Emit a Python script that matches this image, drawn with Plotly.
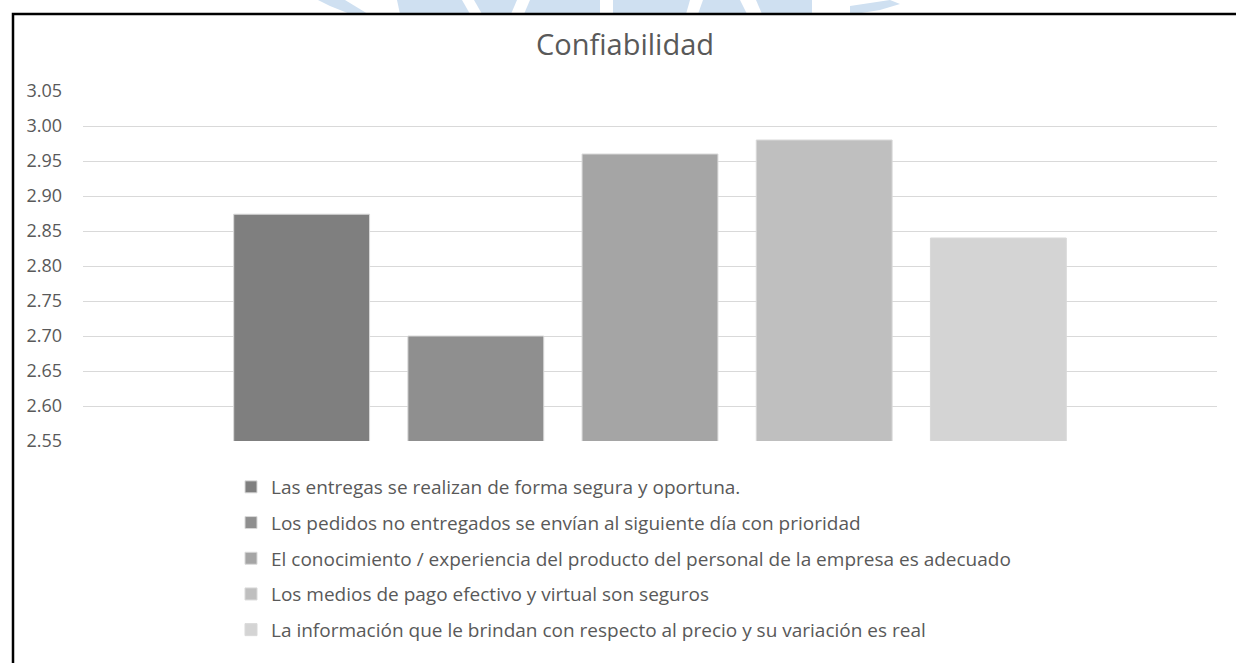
import plotly.graph_objects as go

title_text = "Confiabilidad"
category = ["Confiabilidad"]
series_names = [
    "Las entregas se realizan de forma segura y oportuna.",
    "Los pedidos no entregados se envían al siguiente día con prioridad",
    "El conocimiento / experiencia del producto del personal de la empresa es adecuado",
    "Los medios de pago efectivo y virtual son seguros",
    "La información que le brindan con respecto al precio y su variación es real",
]
series_values = [2.874, 2.70, 2.96, 2.98, 2.84]
series_colors = ["#7f7f7f", "#8f8f8f", "#a5a5a5", "#bfbfbf", "#d4d4d4"]
y_ticks = [2.55, 2.60, 2.65, 2.70, 2.75, 2.80, 2.85, 2.90, 2.95, 3.00, 3.05]

FONT = "Open Sans"
TXT = "#595959"
W, H = 1236, 663

fig = go.Figure()
for name, val, col in zip(series_names, series_values, series_colors):
    fig.add_trace(go.Bar(
        x=category, y=[val], name=name, legendgroup=name,
        marker=dict(color=col, line=dict(color="#d9d9d9", width=1)),
        hoverinfo="name+y",
    ))

# pixel -> paper helpers (plot area: x 83..1217, y 91..441)
L, R, T, B = 83, 1217, 91, 441
def px(x):
    return (x - L) / (R - L)
def py(y):
    return (B - y) / (B - T)

shapes = []
wm = "#cfe0f1"
def poly(pts):
    d = "M" + " L".join(f"{px(a)},{py(b)}" for a, b in pts) + " Z"
    return dict(type="path", xref="paper", yref="paper", path=d,
                fillcolor=wm, line=dict(width=0), layer="above")
# watermark fragments above the frame
shapes.append(poly([(318, 0), (345, 0), (368, 14), (350, 14), (330, 6)]))
shapes.append(poly([(397, 0), (462, 0), (470, 14), (400, 14)]))
shapes.append(poly([(474, 0), (517, 0), (511, 14), (482, 14)]))
shapes.append(poly([(530, 0), (600, 0), (600, 14), (524, 14)]))
shapes.append(poly([(613, 0), (690, 0), (686, 14), (613, 14)]))
shapes.append(poly([(703, 0), (740, 0), (747, 14), (698, 14)]))
shapes.append(poly([(756, 0), (812, 0), (812, 14), (762, 14)]))
shapes.append(poly([(850, 6), (890, 0), (900, 4), (880, 10), (855, 14), (850, 14)]))

# frame
shapes.append(dict(type="path", xref="paper", yref="paper",
                   path=f"M{px(13)},{py(664)} L{px(13)},{py(14)} L{px(1237)},{py(14)}",
                   line=dict(color="#000000", width=2.5), layer="above"))

fig.update_layout(
    width=W, height=H,
    margin=dict(l=L, r=W - R, t=T, b=H - B, autoexpand=False),
    paper_bgcolor="#ffffff", plot_bgcolor="#ffffff",
    font=dict(family=FONT, color=TXT, size=18),
    title=dict(text=title_text, x=625 / W, xref="container", xanchor="center",
               y=1 - 45 / H, yref="container", yanchor="middle",
               font=dict(family=FONT, size=29, color=TXT)),
    barmode="group", bargap=0.232, bargroupgap=0.22,
    showlegend=True,
    legend=dict(orientation="v", xref="container", yref="container",
                x=231 / W, xanchor="left", y=1 - 468 / H, yanchor="top",
                font=dict(family=FONT, size=19, color=TXT), tracegroupgap=8,
                itemwidth=30, bgcolor="rgba(0,0,0,0)"),
    shapes=shapes,
)
fig.update_xaxes(showticklabels=False, showgrid=False, zeroline=False, showline=False,
                 ticks="")
fig.update_yaxes(range=[2.55, 3.05], tickvals=y_ticks, ticktext=[f"{v:.2f}" for v in y_ticks],
                 showgrid=True, gridcolor="#d9d9d9", gridwidth=1, zeroline=False,
                 showline=False, ticks="", ticklabelstandoff=20,
                 tickfont=dict(family=FONT, size=18, color=TXT))

fig.write_html("out.html")
